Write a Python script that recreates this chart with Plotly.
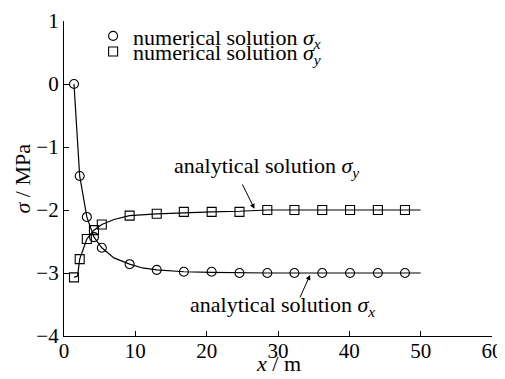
import plotly.graph_objects as go

# numerical solution points
num_x = [1.4, 2.2, 3.2, 4.2, 5.3, 9.2, 13.0, 16.8, 20.7, 24.6, 28.5, 32.3, 36.2, 40.1, 44.0, 47.8]
num_sx = [0.0, -1.46, -2.11, -2.43, -2.60, -2.86, -2.95, -2.98, -2.98, -3.0, -3.0, -3.0, -3.0, -3.0, -3.0, -3.0]
num_sy = [-3.07, -2.78, -2.46, -2.32, -2.23, -2.09, -2.06, -2.03, -2.03, -2.03, -2.0, -2.0, -2.0, -2.0, -2.0, -2.0]

# analytical solution curves
ana_x = [1.4, 2.2, 3.2, 4.2, 5.3, 7.0, 9.2, 11.0, 13.0, 16.8, 20.7, 24.6, 28.5, 50.0]
ana_sx = [0.0, -1.46, -2.11, -2.43, -2.60, -2.76, -2.86, -2.92, -2.95, -2.98, -2.99, -3.0, -3.0, -3.0]
ana_y_x = [1.4, 1.9, 2.2, 3.2, 4.2, 5.3, 7.0, 9.2, 13.0, 16.8, 20.7, 24.6, 28.5, 50.0]
ana_sy = [-3.07, -3.05, -2.78, -2.46, -2.32, -2.23, -2.15, -2.09, -2.06, -2.04, -2.03, -2.02, -2.0, -2.0]

x_ticks = [0, 10, 20, 30, 40, 50, 60]
y_ticks = [1, 0, -1, -2, -3, -4]
y_labels = ["1", "0", "\u22121", "\u22122", "\u22123", "\u22124"]

FONT = "Liberation Serif, Times New Roman, serif"
TXT = 22
TICK = 21

fig = go.Figure()
fig.add_trace(go.Scatter(x=ana_x, y=ana_sx, mode="lines", line=dict(color="black", width=1.2), showlegend=False))
fig.add_trace(go.Scatter(x=ana_y_x, y=ana_sy, mode="lines", line=dict(color="black", width=1.2), showlegend=False))
fig.add_trace(go.Scatter(x=num_x, y=num_sx, mode="markers",
                         marker=dict(symbol="circle-open", size=9, color="black", line=dict(width=1.1)),
                         name="numerical solution <i>σ<sub>x</sub></i>", legend="legend"))
fig.add_trace(go.Scatter(x=num_x, y=num_sy, mode="markers",
                         marker=dict(symbol="square-open", size=9, color="black", line=dict(width=1.1)),
                         name="numerical solution <i>σ<sub>y</sub></i>", legend="legend2"))

fig.add_annotation(x=26.7, y=-1.98, ax=24.9, ay=-1.57, xref="x", yref="y", axref="x", ayref="y",
                   showarrow=True, arrowhead=2, arrowsize=1, arrowwidth=1, arrowcolor="black", text="")
fig.add_annotation(x=28.4, y=-1.32, xref="x", yref="y", showarrow=False, yanchor="middle",
                   text="analytical solution <i>σ<sub>y</sub></i>", font=dict(family=FONT, size=TXT, color="black"))
fig.add_annotation(x=34.5, y=-3.03, ax=33.0, ay=-3.41, xref="x", yref="y", axref="x", ayref="y",
                   showarrow=True, arrowhead=2, arrowsize=1, arrowwidth=1, arrowcolor="black", text="")
fig.add_annotation(x=30.6, y=-3.53, xref="x", yref="y", showarrow=False, yanchor="middle",
                   text="analytical solution <i>σ<sub>x</sub></i>", font=dict(family=FONT, size=TXT, color="black"))

# axis titles
fig.add_annotation(x=0.5, y=0, xref="paper", yref="paper", yshift=-27, showarrow=False, yanchor="middle",
                   text="<i>x</i> / m", font=dict(family=FONT, size=22, color="black"))
fig.add_annotation(x=0, y=0.5, xref="paper", yref="paper", xshift=-42, showarrow=False, xanchor="center",
                   textangle=-90, text="<i>σ</i> / MPa", font=dict(family=FONT, size=22, color="black"))

leg_common = dict(x=0.068, xanchor="left", yanchor="top", bgcolor="rgba(0,0,0,0)",
                  font=dict(family=FONT, size=TXT))
fig.update_layout(
    width=497, height=371,
    margin=dict(l=56, r=13, t=7, b=43),
    paper_bgcolor="white", plot_bgcolor="white",
    font=dict(family=FONT, size=TXT, color="black"),
    legend=dict(y=1.0187, **leg_common),
    legend2=dict(y=0.969, **leg_common),
)
fig.update_xaxes(range=[0, 60], tickvals=x_ticks, ticks="inside", ticklen=5, tickcolor="black",
                 showline=True, linecolor="black", linewidth=1.2, showgrid=False, zeroline=False,
                 tickfont=dict(family=FONT, size=TICK), automargin=False, ticklabelstandoff=-4)
fig.update_yaxes(range=[-4, 1], tickvals=y_ticks, ticktext=y_labels, ticks="inside", ticklen=5, tickcolor="black",
                 showline=True, linecolor="black", linewidth=1.2, showgrid=False, zeroline=False,
                 tickfont=dict(family=FONT, size=TICK), automargin=False)

fig.write_html("out.html")
